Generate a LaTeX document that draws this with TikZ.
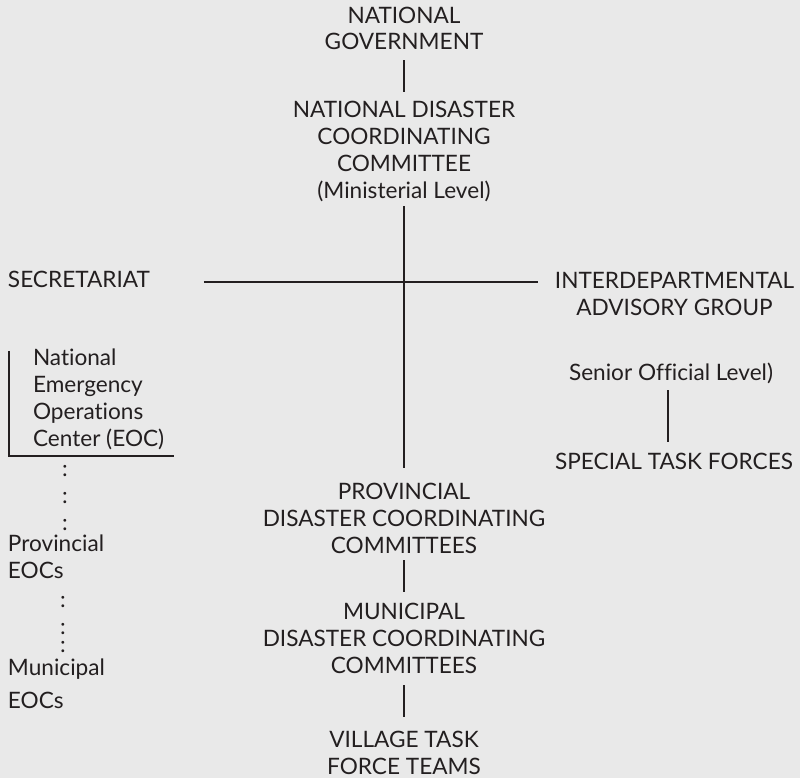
\documentclass[tikz,border=0pt]{standalone}
\usepackage{fontspec}
\setmainfont{Lato}[Ligatures={NoCommon,NoDiscretionary,NoRare}]
\definecolor{paper}{HTML}{E9E9E9}
\definecolor{ink}{HTML}{231F20}
\begin{document}
\begin{tikzpicture}[x=1pt,y=-1pt,
  lbl/.style={inner sep=0pt, outer sep=0pt, text=ink, align=center,
    font=\fontsize{22.6}{26.7}\selectfont},
  lbll/.style={lbl, align=left},
  link/.style={draw=ink, line width=1.8pt},
  colon/.style={lbl, anchor=base}]
\fill[paper] (0,0) rectangle (800,778);
\useasboundingbox (0,0) rectangle (800,778);

% central chain (anchored at the baseline of each last line)
\node[lbl, anchor=base] (ng) at (404,50) {NATIONAL\\GOVERNMENT};
\node[lbl, anchor=base] (ndcc) at (404,198)
  {NATIONAL DISASTER\\COORDINATING\\COMMITTEE\\(Ministerial Level)};
\node[lbl, anchor=base] (pdcc) at (404,553)
  {PROVINCIAL\\DISASTER COORDINATING\\COMMITTEES};
\node[lbl, anchor=base] (mdcc) at (404,673)
  {MUNICIPAL\\DISASTER COORDINATING\\COMMITTEES};
\node[lbl, anchor=base] (vtf) at (404,774) {VILLAGE TASK\\FORCE TEAMS};

% side branches
\node[lbl, anchor=base west] (sec) at (8,287) {SECRETARIAT};
\node[lbl, anchor=base] (iag) at (674.5,315) {INTERDEPARTMENTAL\\ADVISORY GROUP};
\node[lbl, anchor=base] (sol) at (671,380) {Senior Official Level)};
\node[lbl, anchor=base] (stf) at (674,469) {SPECIAL TASK FORCES};

% emergency operations centres
\node[lbll, anchor=base west] (eoc) at (33,446)
  {National\\Emergency\\Operations\\Center (EOC)};
\node[colon] (c1) at (65,476) {:};
\node[colon] (c2) at (65,503) {:};
\node[colon] (c3) at (65,530) {:};
\node[lbll, anchor=base west] (peoc) at (8,578) {Provincial\\EOCs};
\node[colon] (c4) at (63,607) {:};
\node[colon] (c5) at (63,634) {:};
\node[colon] (c6) at (63,652) {:};
\node[lbll, anchor=base west] (meoc) at (8,708) {Municipal\\[6.3pt]EOCs};

% connectors
\coordinate (hub) at (404,282);
\draw[link, shorten <=10pt, shorten >=9.5pt] (ng.south) -- (ndcc.north);
\draw[link, shorten <=5pt, shorten >=15.5pt] (ndcc.south) -- (pdcc.north);
\draw[link, shorten <=54pt, shorten >=17pt] (sec.east |- hub) -- (iag.west |- hub);
\draw[link, shorten <=7pt, shorten >=11pt]
  ([xshift=-3pt]sol.south) -- ([xshift=-6pt]stf.north);
\draw[link, shorten <=7pt, shorten >=11.5pt] (pdcc.south) -- (mdcc.north);
\draw[link, shorten <=12pt, shorten >=13.5pt] (mdcc.south) -- (vtf.north);
\draw[link] ([xshift=-24pt,yshift=-1.5pt]eoc.north west)
  |- ([xshift=10pt,yshift=-7pt]eoc.south east);
\end{tikzpicture}
\end{document}
